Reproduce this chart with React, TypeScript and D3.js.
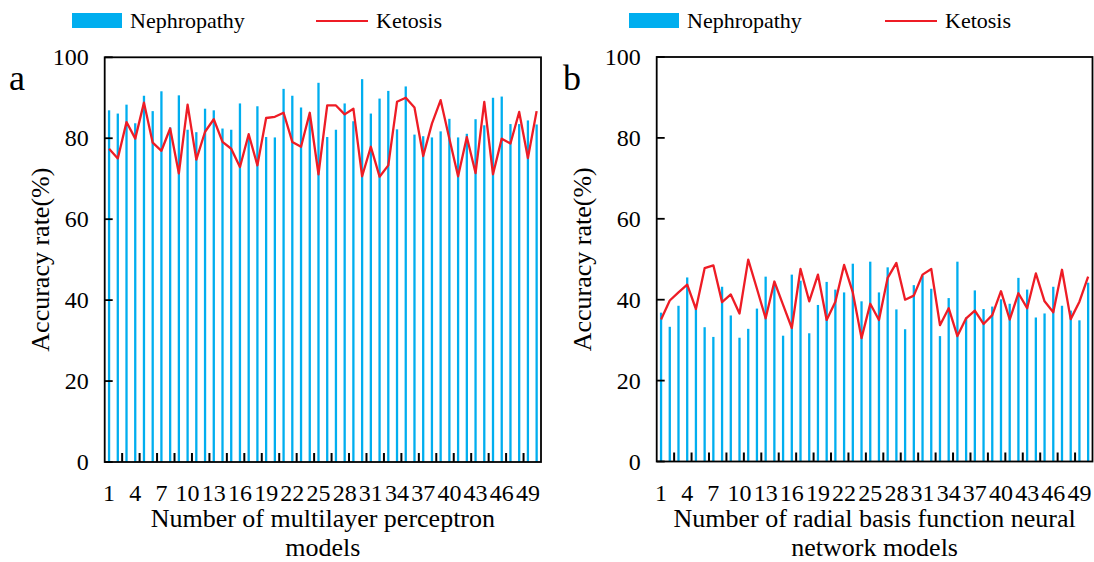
import React from "react";
import * as d3 from "d3";

const categories: number[] = Array.from({ length: 50 }, (_, i) => i + 1);

const mlpNephropathy: number[] = [
  86.9, 86.1, 88.3, 83.7, 90.5, 86.7, 91.6, 82.7, 90.6, 82.1,
  81.5, 87.3, 86.9, 82.4, 82.1, 88.6, 80.5, 87.9, 80.3, 80.2,
  92.2, 90.5, 87.6, 85.5, 93.7, 80.3, 82.1, 88.6, 84.2, 94.6,
  86.1, 89.8, 91.7, 82.2, 92.8, 80.9, 80.5, 80.2, 81.7, 84.8,
  80.2, 81.1, 84.7, 83.2, 90.0, 90.3, 83.5, 83.5, 84.4, 83.4,
];
const mlpKetosis: number[] = [
  77.4, 75.0, 84.0, 79.9, 88.8, 78.9, 76.9, 82.4, 71.3, 88.3,
  74.7, 81.6, 84.7, 79.1, 77.4, 72.9, 81.0, 73.3, 85.0, 85.3,
  86.3, 79.1, 77.9, 86.3, 71.1, 88.1, 88.1, 85.9, 87.3, 70.6,
  77.9, 70.5, 73.3, 89.0, 90.0, 87.6, 75.6, 83.6, 89.4, 79.9,
  70.6, 80.3, 71.4, 89.0, 71.1, 79.9, 78.7, 86.5, 75.1, 86.7,
];
const rbfNephropathy: number[] = [
  36.8, 33.3, 38.5, 45.5, 37.7, 33.2, 30.8, 43.2, 36.1, 30.6,
  32.8, 37.8, 45.7, 44.0, 31.1, 46.2, 44.7, 31.7, 38.7, 44.4,
  42.5, 41.8, 48.9, 39.6, 49.4, 41.8, 48.0, 37.6, 32.7, 43.6,
  46.0, 42.7, 31.0, 40.4, 49.4, 35.6, 42.3, 37.7, 38.3, 40.1,
  39.0, 45.4, 42.5, 35.6, 36.6, 43.2, 38.5, 37.3, 34.9, 44.2,
];
const rbfKetosis: number[] = [
  35.1, 39.8, 41.8, 43.7, 37.7, 47.8, 48.5, 39.4, 41.3, 36.6,
  49.9, 42.7, 35.4, 44.5, 38.7, 33.0, 47.6, 39.6, 46.2, 35.0,
  39.5, 48.6, 41.8, 30.5, 39.0, 35.0, 45.4, 49.1, 40.0, 41.0,
  46.2, 47.6, 33.7, 37.9, 31.0, 35.4, 37.3, 34.0, 36.2, 42.1,
  35.1, 41.6, 37.9, 46.5, 39.6, 36.9, 47.4, 35.2, 39.5, 45.7,
];
const yTicks: number[] = [0, 20, 40, 60, 80, 100];
const seriesNames: string[] = ["Nephropathy", "Ketosis"];

const BLUE = "#00AEEF";
const RED = "#EE1C25";
const FONT = '"Liberation Serif", "Times New Roman", Times, serif';

type PanelProps = {
  x0: number;
  x1: number;
  top: number;
  bottom: number;
  bars: number[];
  line: number[];
  letter: string;
  letterX: number;
  yTitleX: number;
  xTitle: string[];
  legendX: number;
  legend2X: number;
};

function Panel(p: PanelProps) {
  const x = d3.scaleBand<number>().domain(categories).range([p.x0, p.x1]).padding(0);
  const y = d3.scaleLinear().domain([0, 100]).range([p.bottom, p.top]);
  const bw = x.bandwidth();
  const barW = 2.3;
  const lineGen = d3
    .line<number>()
    .x((_, i) => (x(categories[i]) as number) + bw / 2)
    .y((d) => y(d));
  const cx = (p.x0 + p.x1) / 2;
  const tickMarks = categories.filter((c, i) => i > 0 && i % 2 === 0);
  const tickLabels = categories.filter((c) => (c - 1) % 3 === 0);
  const yMid = (p.top + p.bottom) / 2;
  return (
    <g>
      <rect x={p.legendX} y={13} width={50} height={15} fill={BLUE} />
      <text x={p.legendX + 58} y={28} fontSize={22}>
        {seriesNames[0]}
      </text>
      <line x1={p.legend2X} x2={p.legend2X + 52} y1={21} y2={21} stroke={RED} strokeWidth={2} />
      <text x={p.legend2X + 60} y={28} fontSize={22}>
        {seriesNames[1]}
      </text>
      <text x={p.letterX} y={90} fontSize={36}>
        {p.letter}
      </text>
      {p.bars.map((v, i) => (
        <rect
          key={i}
          x={(x(categories[i]) as number) + bw / 2 - barW / 2}
          y={y(v)}
          width={barW}
          height={y(0) - y(v)}
          fill={BLUE}
        />
      ))}
      <path d={lineGen(p.line) || ""} fill="none" stroke={RED} strokeWidth={2.3} strokeLinejoin="round" />
      <rect x={p.x0} y={p.top} width={p.x1 - p.x0} height={p.bottom - p.top} fill="none" stroke="#000" strokeWidth={1.8} />
      {yTicks.map((t) => (
        <g key={t}>
          <line x1={p.x0} x2={p.x0 + 8} y1={y(t)} y2={y(t)} stroke="#000" strokeWidth={1.8} />
          <text x={p.x0 - 16} y={y(t)} textAnchor="end" dominantBaseline="central" fontSize={24}>
            {t}
          </text>
        </g>
      ))}
      {tickMarks.map((c) => (
        <line
          key={c}
          x1={x(c) as number}
          x2={x(c) as number}
          y1={p.bottom}
          y2={p.bottom - 9}
          stroke="#000"
          strokeWidth={2}
        />
      ))}
      {tickLabels.map((c) => (
        <text key={c} x={(x(c) as number) + bw / 2} y={501} textAnchor="middle" fontSize={24}>
          {c}
        </text>
      ))}
      {p.xTitle.map((s, i) => (
        <text key={i} x={cx} y={527 + i * 29} textAnchor="middle" fontSize={26}>
          {s}
        </text>
      ))}
      <text
        transform={`translate(${p.yTitleX},${yMid}) rotate(-90)`}
        textAnchor="middle"
        dominantBaseline="central"
        fontSize={26}
      >
        Accuracy rate(%)
      </text>
    </g>
  );
}

export default function App() {
  return (
    <svg
      width={1094}
      height={562}
      viewBox="0 0 1094 562"
      style={{ position: "absolute", left: 0, top: 0, display: "block", background: "#fff", fontFamily: FONT }}
    >
      <rect width={1094} height={562} fill="#fff" />
      <Panel
        x0={104.7}
        x1={541}
        top={57.3}
        bottom={462}
        bars={mlpNephropathy}
        line={mlpKetosis}
        letter="a"
        letterX={9}
        yTitleX={40}
        xTitle={["Number of multilayer perceptron", "models"]}
        legendX={72}
        legend2X={316}
      />
      <Panel
        x0={656.7}
        x1={1092.5}
        top={57}
        bottom={461.5}
        bars={rbfNephropathy}
        line={rbfKetosis}
        letter="b"
        letterX={563}
        yTitleX={582}
        xTitle={["Number of radial basis function neural", "network models"]}
        legendX={629}
        legend2X={885}
      />
    </svg>
  );
}
